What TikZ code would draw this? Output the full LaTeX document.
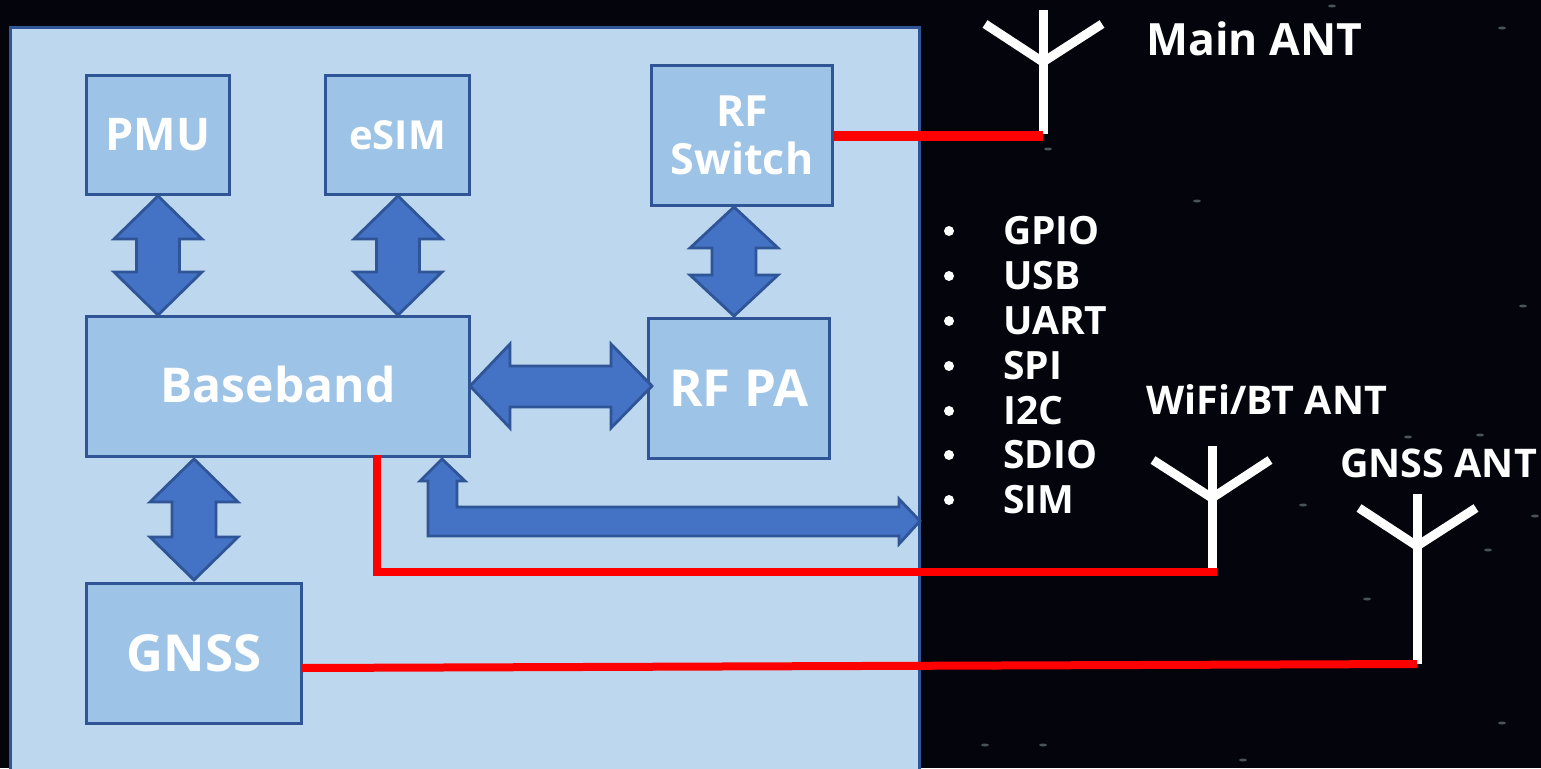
\documentclass[tikz,border=0pt]{standalone}
\usepackage{fontspec}
\setmainfont{Open Sans}[BoldFont={Open Sans Bold}]
\definecolor{bgc}{HTML}{03040C}
\definecolor{panelc}{HTML}{BDD7EE}
\definecolor{boxc}{HTML}{9DC3E6}
\definecolor{edgec}{HTML}{2F5597}
\definecolor{arrc}{HTML}{4472C4}
\definecolor{starc}{HTML}{4A5458}
\newcommand{\fs}[1]{\fontsize{#1}{#1}\selectfont\bfseries}
\tikzset{
  box/.style={draw=edgec,fill=boxc,line width=3pt,text=white,align=center,inner sep=0pt,outer sep=0pt},
  blockarrow/.style={draw=edgec,fill=arrc,line width=2.8pt,line join=miter},
  feed/.style={draw=red,line width=8pt},
  ant/.style={draw=white,line width=9pt},
  lab/.style={text=white,anchor=west,inner sep=0pt},
  star/.style={fill=starc,draw=none}
}
% vertical double block arrow: x, top, bottom, head half, shaft half, top base, bottom base
\newcommand{\vdbl}[7]{\draw[blockarrow] (#1,#2) -- (#1+#4,#6) -- (#1+#5,#6) -- (#1+#5,#7) -- (#1+#4,#7) -- (#1,#3) -- (#1-#4,#7) -- (#1-#5,#7) -- (#1-#5,#6) -- (#1-#4,#6) -- cycle;}
\begin{document}
\begin{tikzpicture}[x=1pt,y=-1pt]
\useasboundingbox (0,0) rectangle (1541,768);
\fill[bgc] (0,0) rectangle (1541,768);
% faint stars
\foreach \sx/\sy in {1502/28,1332/6,1048/149,1197/201,1523/306,1480/435,1408/437,1303/505,1535/516,1488/550,1367/599,1502/723,985/745,1043/745,1243/760}
  \fill[star] (\sx,\sy) ellipse (4pt and 1.5pt);
% panel
\node[draw=edgec,fill=panelc,line width=3pt,outer sep=0pt,minimum width=909.5pt,minimum height=760pt,anchor=north west,inner sep=0pt] (panel) at (10,28) {};
% boxes
\node[box,minimum width=143.5pt,minimum height=119.5pt,font=\fs{45}] (pmu) at (158,135) {PMU};
\node[box,minimum width=144.5pt,minimum height=119.5pt,font=\fs{40}] (esim) at (397.5,135) {eSIM};
\node[box,minimum width=181.5pt,minimum height=140.5pt,font=\fs{43}] (rfsw) at (742,135.5) {RF\\[5pt]Switch};
\node[box,minimum width=383.5pt,minimum height=140.5pt,font=\fs{48}] (bb) at (278,386.5) {\raisebox{3.5pt}{Baseband}};
\node[box,minimum width=181.5pt,minimum height=140.5pt,font=\fs{51}] (rfpa) at (739,388.5) {RF PA};
\node[box,minimum width=215.5pt,minimum height=140.5pt,font=\fs{51}] (gnss) at (194,653.5) {GNSS};
% block arrows
\vdbl{158}{196}{315}{44}{21.5}{239}{272}
\vdbl{398}{196}{315}{44}{21.5}{239}{272}
\vdbl{734}{207}{316}{44}{22}{248}{275}
\vdbl{194}{459}{580}{44}{22}{502}{537}
\draw[blockarrow] (470,386) -- (510,344) -- (510,366) -- (611,366) -- (611,344) -- (652,386) -- (611,428) -- (611,407) -- (510,407) -- (510,428) -- cycle;
\draw[blockarrow] (442,459) -- (465,481) -- (457,481) -- (457,507) -- (899,507) -- (899,499) -- (920,521) -- (899,544) -- (899,536) -- (428,536) -- (428,481) -- (420,481) -- cycle;
% antennas
\coordinate (mainbase) at (1043,134);
\coordinate (mainj) at (1043,62);
\draw[ant] (1043,10) -- (mainbase);
\draw[ant] (985,24) -- (mainj) -- (1102,24);
\coordinate (wifibase) at (1212,572);
\coordinate (wifij) at (1212,498);
\draw[ant] (1212,446) -- (wifibase);
\draw[ant] (1153,460) -- (wifij) -- (1270,460);
\coordinate (gnssbase) at (1417,664);
\coordinate (gnssj) at (1417,546);
\draw[ant] (1417,494) -- (gnssbase);
\draw[ant] (1359,508) -- (gnssj) -- (1476,508);
% feeds
\coordinate (mainfeed) at (1043,136);
\draw[feed,line width=10pt] (rfsw.east |- 0,136) -- (mainfeed);
\coordinate (wifistart) at (376.5,455);
\coordinate (wificorner) at (376.5,572);
\coordinate (wififeed) at (1217,572);
\draw[feed] (wifistart) -- (wificorner) -- (wififeed);
\coordinate (gnssfeed) at (1417,664);
\draw[feed] (gnss.east |- 0,668) -- (gnssfeed);
% labels
\node[lab,font=\fs{44.5}] (lmain) at (1146,38.5) {Main ANT};
\node[lab,font=\fs{39.5}] (lwifi) at (1146,399) {WiFi/BT ANT};
\node[lab,font=\fs{39.5}] (lgnss) at (1340,463) {GNSS ANT};
\foreach \ty/\tx/\tn in {231/GPIO/a,276/USB/b,321/UART/c,366/SPI/d,411/I2C/e,455/SDIO/f,500/SIM/g}{
  \fill[white] (949,\ty) circle (5pt);
  \node[lab,font=\fs{39}] (l\tn) at (1003,\ty) {\tx};
}
\end{tikzpicture}
\end{document}
